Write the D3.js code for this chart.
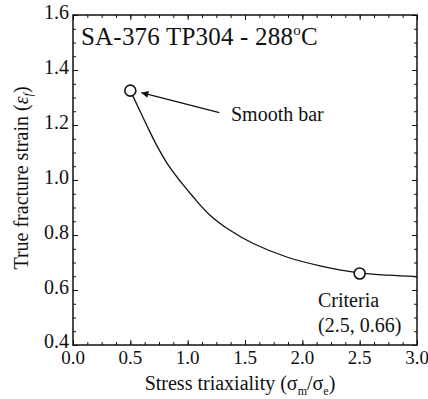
<!DOCTYPE html>
<html>
<head>
<meta charset="UTF-8">
<title></title>
<style>
  body { margin: 0; background: #fff; }
</style>
</head>
<body>
<div id="chart"></div>
<script src="https://d3js.org/d3.v7.min.js"></script>
<script>
// curve
var curveX = [0.5, 0.643, 0.73, 0.831, 0.94, 1.049, 1.195, 1.369, 1.572, 1.864, 2.154, 2.5, 2.75, 3.0];
var curveY = [1.325, 1.199, 1.126, 1.054, 0.993, 0.938, 0.872, 0.817, 0.769, 0.720, 0.688, 0.662, 0.654, 0.649];
// marked points
var markX = [0.5, 2.5];
var markY = [1.325, 0.66];
var xTicks = [0, 0.5, 1.0, 1.5, 2.0, 2.5, 3.0];
var yTicks = [0.4, 0.6, 0.8, 1.0, 1.2, 1.4, 1.6];

var width = 428, height = 399;
var pad = { top: 15, right: 11, bottom: 54, left: 73 };
var serif = "'Liberation Serif', 'Times New Roman', 'DejaVu Serif', serif";

var svg = d3.select("#chart").append("svg")
  .attr("width", width).attr("height", height)
  .attr("font-family", serif);

var x = d3.scaleLinear().domain([0, 3]).range([pad.left, width - pad.right]);
var y = d3.scaleLinear().domain([0.4, 1.6]).range([height - pad.bottom, pad.top]);

var x0 = x(0), x1 = x(3), y0 = y(0.4), y1 = y(1.6);

// minor ticks: 3 between majors
var xMinor = d3.range(0, 3.0001, 0.125);
var yMinor = d3.range(0.4, 1.6001, 0.05);

function tickSet(axis, vals, size, t) {
  svg.append("g").attr("transform", t)
    .call(axis.tickValues(vals).tickSize(size).tickFormat(""))
    .call(function(g) { g.select(".domain").remove(); g.selectAll("line").attr("stroke", "#111").attr("stroke-width", 1); });
}
// inward ticks on all four sides
tickSet(d3.axisTop(x), xMinor, 3, "translate(0," + y0 + ")");
tickSet(d3.axisTop(x), xTicks, 5, "translate(0," + y0 + ")");
tickSet(d3.axisBottom(x), xMinor, 3, "translate(0," + y1 + ")");
tickSet(d3.axisBottom(x), xTicks, 5, "translate(0," + y1 + ")");
tickSet(d3.axisRight(y), yMinor, 3, "translate(" + x0 + ",0)");
tickSet(d3.axisRight(y), yTicks, 5, "translate(" + x0 + ",0)");
tickSet(d3.axisLeft(y), yMinor, 3, "translate(" + x1 + ",0)");
tickSet(d3.axisLeft(y), yTicks, 5, "translate(" + x1 + ",0)");

svg.append("rect")
  .attr("x", x0).attr("y", y1).attr("width", x1 - x0).attr("height", y0 - y1)
  .attr("fill", "none").attr("stroke", "#111").attr("stroke-width", 1.5);

// tick labels
svg.append("g").selectAll("text").data(xTicks).join("text")
  .attr("x", function(d) { return x(d); })
  .attr("y", 364)
  .attr("text-anchor", "middle")
  .attr("font-size", 19).attr("fill", "#111")
  .text(function(d) { return d3.format(".1f")(d); });

svg.append("g").selectAll("text").data(yTicks).join("text")
  .attr("x", 69)
  .attr("y", function(d) { return y(d) + (d === 0.4 ? 3 : 4); })
  .attr("text-anchor", "end")
  .attr("font-size", 20).attr("fill", "#111")
  .text(function(d) { return d3.format(".1f")(d); });

// axis titles
var xl = svg.append("text").attr("x", (x0 + x1) / 2 - 5).attr("y", 390)
  .attr("text-anchor", "middle").attr("font-size", 20).attr("fill", "#111");
xl.append("tspan").text("Stress triaxiality (σ");
xl.append("tspan").attr("font-size", 12).attr("dy", 5).text("m");
xl.append("tspan").attr("dy", -5).text("/σ");
xl.append("tspan").attr("font-size", 12).attr("dy", 5).text("e");
xl.append("tspan").attr("dy", -5).text(")");

var yl = svg.append("text")
  .attr("transform", "translate(28," + ((y0 + y1) / 2 - 2) + ") rotate(-90)")
  .attr("text-anchor", "middle").attr("font-size", 20).attr("fill", "#111");
yl.append("tspan").text("True fracture strain (");
yl.append("tspan").attr("font-style", "italic").text("ε");
yl.append("tspan").attr("font-style", "italic").attr("font-size", 12).attr("dy", 4).text("f");
yl.append("tspan").attr("dy", -4).text(")");

// title
var tt = svg.append("text").attr("x", 81).attr("y", 45).attr("font-size", 25)
  .attr("letter-spacing", 0.2).attr("fill", "#111");
tt.append("tspan").text("SA-376 TP304 - 288");
tt.append("tspan").attr("font-size", 15).attr("dy", -10).text("o");
tt.append("tspan").attr("dy", 10).text("C");

// curve
var pts = curveX.map(function(v, i) { return [v, curveY[i]]; });
var line = d3.line()
  .x(function(d) { return x(d[0]); })
  .y(function(d) { return y(d[1]); })
  .curve(d3.curveCatmullRom.alpha(0.5));

svg.append("path").datum(pts)
  .attr("d", line)
  .attr("fill", "none").attr("stroke", "#111").attr("stroke-width", 1.3);

// markers
var marks = markX.map(function(v, i) { return [v, markY[i]]; });
svg.append("g").selectAll("circle").data(marks).join("circle")
  .attr("cx", function(d) { return x(d[0]); })
  .attr("cy", function(d) { return y(d[1]); })
  .attr("r", 5.5)
  .attr("fill", "#fff").attr("stroke", "#111").attr("stroke-width", 1.6);

// arrow to smooth bar point
svg.append("defs").append("marker")
  .attr("id", "ah").attr("viewBox", "0 0 10 10")
  .attr("refX", 10).attr("refY", 5)
  .attr("markerWidth", 10).attr("markerHeight", 7)
  .attr("markerUnits", "userSpaceOnUse")
  .attr("orient", "auto")
  .append("path").attr("d", "M0,0 L10,5 L0,10 Z").attr("fill", "#111");

svg.append("line")
  .attr("x1", x(0.5) + 89).attr("y1", y(markY[0]) + 22)
  .attr("x2", x(0.5) + 11).attr("y2", y(markY[0]) + 2)
  .attr("stroke", "#111").attr("stroke-width", 1.2)
  .attr("marker-end", "url(#ah)");

svg.append("text").attr("x", 231).attr("y", 121).attr("font-size", 20).attr("fill", "#111").text("Smooth bar");
svg.append("text").attr("x", 318).attr("y", 307).attr("font-size", 20).attr("fill", "#111").text("Criteria");
svg.append("text").attr("x", 318).attr("y", 332).attr("font-size", 20).attr("fill", "#111").text("(2.5, 0.66)");
</script>
</body>
</html>
